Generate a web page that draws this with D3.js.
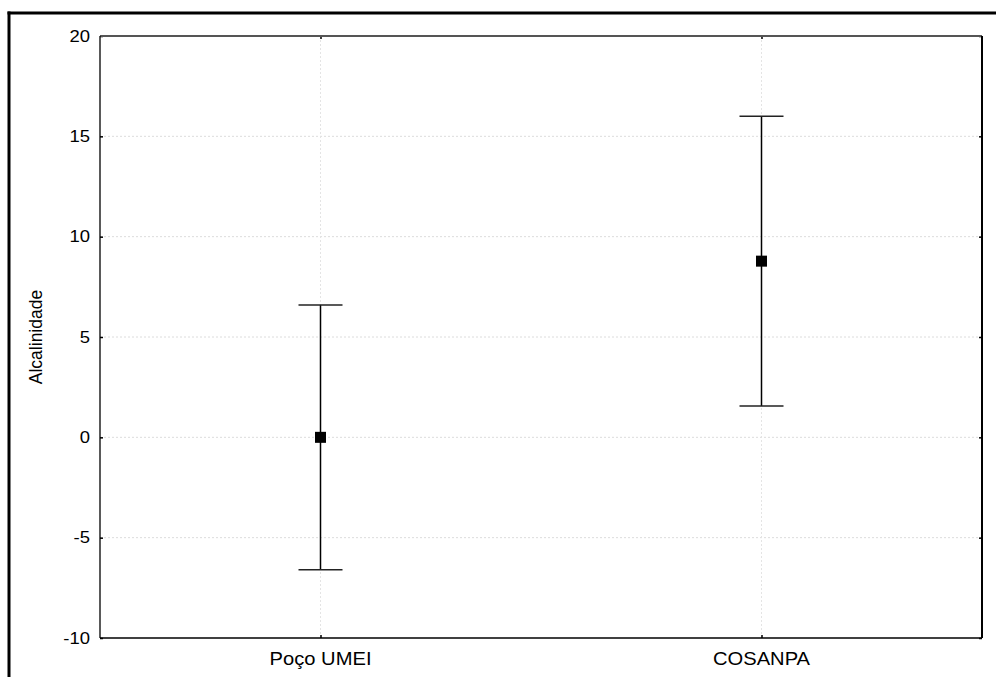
<!DOCTYPE html>
<html>
<head>
<meta charset="utf-8">
<script src="https://cdn.jsdelivr.net/npm/d3@7"></script>
<style>
  html, body { margin: 0; padding: 0; background: #fff; }
  svg { display: block; }
  text { font-family: "Liberation Sans", Arial, sans-serif; fill: #000; }
</style>
</head>
<body>
<svg id="chart" width="996" height="677"></svg>
<script>
const categories = ["Poço UMEI", "COSANPA"];
const means = [0, 8.78];
const upperVals = [6.6, 16.0];
const lowerVals = [-6.6, 1.56];
const yTicks = [-10, -5, 0, 5, 10, 15, 20];
const yLabel = "Alcalinidade";

const svg = d3.select("#chart");
const W = 996, H = 677;
const plot = { left: 100, top: 36, right: 982, bottom: 638 };
const stretch = 1.12;

const x = d3.scalePoint().domain(categories).range([plot.left, plot.right]).padding(0.5);
const y = d3.scaleLinear().domain([-10, 20]).range([plot.bottom, plot.top]);

// outer frame (top and left visible)
svg.append("line").attr("x1", 7.5).attr("x2", W).attr("y1", 13).attr("y2", 13)
  .attr("stroke", "#000").attr("stroke-width", 3);
svg.append("line").attr("x1", 9).attr("x2", 9).attr("y1", 11.5).attr("y2", H)
  .attr("stroke", "#000").attr("stroke-width", 3);

// gridlines
const grid = svg.append("g");
grid.selectAll("line.h").data(yTicks.filter(d => d > -10 && d < 20)).join("line")
  .attr("x1", plot.left).attr("x2", plot.right)
  .attr("y1", d => y(d)).attr("y2", d => y(d))
  .attr("stroke", "#dcdcdc").attr("stroke-width", 1).attr("stroke-dasharray", "2,2");
grid.selectAll("line.v").data(categories).join("line")
  .attr("x1", d => x(d)).attr("x2", d => x(d))
  .attr("y1", plot.top).attr("y2", plot.bottom)
  .attr("stroke", "#e4e4e4").attr("stroke-width", 1).attr("stroke-dasharray", "2,2");

// axes (ticks inside)
const yAxisL = d3.axisLeft(y).tickValues(yTicks).tickSize(-3).tickFormat(d => String(d));
const gL = svg.append("g").attr("transform", `translate(${plot.left},0)`).call(yAxisL);
gL.select(".domain").remove();
gL.selectAll(".tick line").attr("stroke", "#000").attr("stroke-width", 1.5);
gL.selectAll(".tick text")
  .attr("x", 0).attr("dx", 0)
  .style("font-size", "16.5px").style("font-family", "'Liberation Sans', Arial, sans-serif")
  .attr("text-anchor", "end")
  .attr("transform", `translate(-10,0) scale(${stretch},1)`);

const yAxisR = d3.axisRight(y).tickValues(yTicks).tickSize(-3).tickFormat("");
const gR = svg.append("g").attr("transform", `translate(${plot.right},0)`).call(yAxisR);
gR.select(".domain").remove();
gR.selectAll(".tick line").attr("stroke", "#000").attr("stroke-width", 1.5);

const xAxisB = d3.axisBottom(x).tickSize(-3).tickFormat("");
const gB = svg.append("g").attr("transform", `translate(0,${plot.bottom})`).call(xAxisB);
gB.select(".domain").remove();
gB.selectAll(".tick line").attr("stroke", "#000").attr("stroke-width", 1.5);

const xAxisT = d3.axisTop(x).tickSize(-3).tickFormat("");
const gT = svg.append("g").attr("transform", `translate(0,${plot.top})`).call(xAxisT);
gT.select(".domain").remove();
gT.selectAll(".tick line").attr("stroke", "#000").attr("stroke-width", 1.5);

// x labels
svg.append("g").selectAll("text").data(categories).join("text")
  .attr("transform", d => `translate(${x(d)},665) scale(${stretch},1)`)
  .attr("text-anchor", "middle")
  .style("font-size", "18px")
  .text(d => d);

// plot border
svg.append("line").attr("x1", plot.left).attr("x2", plot.right).attr("y1", plot.top).attr("y2", plot.top)
  .attr("stroke", "#555").attr("stroke-width", 2);
svg.append("line").attr("x1", plot.left).attr("x2", plot.left).attr("y1", plot.top).attr("y2", plot.bottom)
  .attr("stroke", "#000").attr("stroke-width", 1.3);
svg.append("line").attr("x1", plot.right).attr("x2", plot.right).attr("y1", plot.top).attr("y2", plot.bottom)
  .attr("stroke", "#000").attr("stroke-width", 2);
svg.append("line").attr("x1", plot.left).attr("x2", plot.right).attr("y1", plot.bottom).attr("y2", plot.bottom)
  .attr("stroke", "#000").attr("stroke-width", 1.5);

// y label
svg.append("text")
  .attr("transform", `translate(42,${(plot.top + plot.bottom) / 2}) rotate(-90)`)
  .attr("text-anchor", "middle")
  .style("font-size", "17.5px")
  .text(yLabel);

// error bars
const data = categories.map((c, i) => ({ c, m: means[i], hi: upperVals[i], lo: lowerVals[i] }));
const capHalf = 22;
const eb = svg.append("g");
eb.selectAll("line.stem").data(data).join("line")
  .attr("x1", d => x(d.c)).attr("x2", d => x(d.c))
  .attr("y1", d => y(d.hi)).attr("y2", d => y(d.lo))
  .attr("stroke", "#000").attr("stroke-width", 1.5);
eb.selectAll("line.capHi").data(data).join("line")
  .attr("x1", d => x(d.c) - capHalf).attr("x2", d => x(d.c) + capHalf)
  .attr("y1", d => y(d.hi)).attr("y2", d => y(d.hi))
  .attr("stroke", "#222").attr("stroke-width", 1.5);
eb.selectAll("line.capLo").data(data).join("line")
  .attr("x1", d => x(d.c) - capHalf).attr("x2", d => x(d.c) + capHalf)
  .attr("y1", d => y(d.lo)).attr("y2", d => y(d.lo))
  .attr("stroke", "#222").attr("stroke-width", 1.5);
eb.selectAll("rect").data(data).join("rect")
  .attr("x", d => x(d.c) - 5.5).attr("y", d => y(d.m) - 5.5)
  .attr("width", 11).attr("height", 11)
  .attr("fill", "#000");
</script>
</body>
</html>
